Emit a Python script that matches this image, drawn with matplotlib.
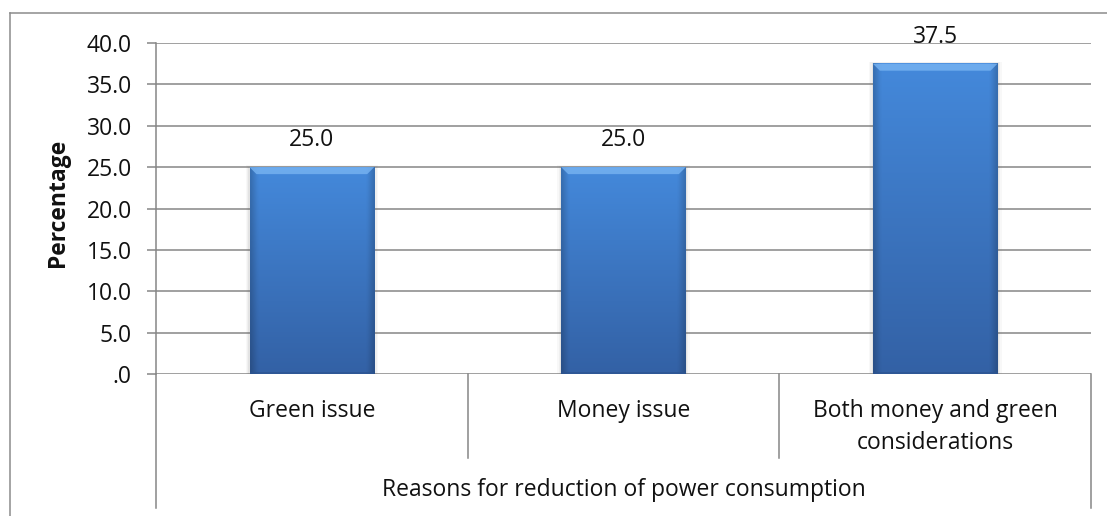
import numpy as np
import matplotlib.pyplot as plt
from matplotlib.patches import Polygon, Rectangle
from matplotlib.lines import Line2D

plt.rcParams['font.family'] = ['Open Sans', 'DejaVu Sans']

categories = ['Green issue', 'Money issue', 'Both money and green\nconsiderations']
values = [25.0, 25.0, 37.5]
yticks = [0, 5, 10, 15, 20, 25, 30, 35, 40]
ytick_labels = ['.0', '5.0', '10.0', '15.0', '20.0', '25.0', '30.0', '35.0', '40.0']
group_label = 'Reasons for reduction of power consumption'
ylabel = 'Percentage'

W, H = 1107, 516
fig = plt.figure(figsize=(W / 100, H / 100), dpi=100)
ax = fig.add_axes([156 / W, 1 - 374 / H, (1091 - 156) / W, (374 - 43) / H])

grid_col = '#868686'
txt_col = '#111111'
fs = 16.5
bar_w = 0.4
x = np.arange(len(categories))

ax.set_xlim(-0.5, len(categories) - 0.5)
ax.set_ylim(0, 40)

# horizontal gridlines
for t in yticks:
    ax.axhline(t, color=grid_col, lw=1.1, zorder=1)

# vertical blue gradient with darker side edges
ny, nx = 200, 60
top = np.array([0x44, 0x89, 0xdb]) / 255
bot = np.array([0x33, 0x61, 0xa5]) / 255
fy = np.linspace(0, 1, ny)[:, None, None]
grad = top * (1 - fy) + bot * fy
ex = np.linspace(0, 1, nx)
edge = 1 - 0.18 * np.clip(1 - np.minimum(ex, 1 - ex) / 0.06, 0, 1)
img = np.broadcast_to(grad * edge[None, :, None], (ny, nx, 3))

px_x = len(categories) / (1091 - 156)
px_y = 40 / (374 - 43)

for xi, v in zip(x, values):
    x0, x1 = xi - bar_w / 2, xi + bar_w / 2
    # soft shadow
    for k, a in [(4, 0.04), (2.5, 0.06), (1.2, 0.08)]:
        ax.add_patch(Rectangle((x0 - k * px_x, 0), bar_w + 2 * k * px_x, v + k * px_y * 0.5,
                               facecolor='#606060', alpha=a, edgecolor='none', zorder=2))
    ax.imshow(img, extent=[x0, x1, 0, v], aspect='auto', zorder=3, interpolation='bilinear')
    # light bevel on the top edge
    bh, bw = 7 * px_y, 7 * px_x
    ax.add_patch(Polygon([(x0, v), (x1, v), (x1 - bw, v - bh), (x0 + bw, v - bh)],
                         closed=True, facecolor='#78b4f2', edgecolor='none', alpha=0.8, zorder=4))
    ax.add_patch(Rectangle((x0, 0), bar_w, 2.5 * px_y, facecolor='#2c5490',
                           edgecolor='none', alpha=0.7, zorder=4))
    ax.annotate(f'{v:.1f}', (xi, v), xytext=(0, 19.5), textcoords='offset points',
                ha='center', va='center', fontsize=fs, color=txt_col, zorder=5)

ax.set_xlim(-0.5, len(categories) - 0.5)
ax.set_ylim(0, 40)

ax.set_yticks(yticks)
ax.set_yticklabels(ytick_labels, fontsize=fs, color=txt_col)
ax.tick_params(axis='y', direction='out', length=6.5, width=1.1, color=grid_col, pad=11)
ax.set_xticks([])
for s in ['top', 'right', 'bottom']:
    ax.spines[s].set_visible(False)
ax.spines['left'].set_color(grid_col)
ax.spines['left'].set_linewidth(1.1)
ax.set_ylabel(ylabel, fontsize=fs, fontweight='bold', color=txt_col)
ax.yaxis.set_label_coords(-0.092, 0.518)

# category boxes under the axis
tr = ax.get_xaxis_transform()
inner = -(458 - 374) / (374 - 43)
outer = -(508 - 374) / (374 - 43)
for b in np.arange(len(categories) + 1) - 0.5:
    ylow = outer if b in (-0.5, len(categories) - 0.5) else inner
    ax.add_line(Line2D([b, b], [0, ylow], transform=tr, color=grid_col, lw=1.1, clip_on=False))
lab_y = -(399 - 374) / (374 - 43)
for xi, c in zip(x, categories):
    ax.text(xi, lab_y, c, transform=tr, ha='center', va='top', fontsize=fs,
            color=txt_col, linespacing=1.45)
ax.text(np.mean(x), -(490 - 374) / (374 - 43), group_label, transform=tr,
        ha='center', va='center', fontsize=fs, color=txt_col)

# outer chart frame
fig.add_artist(Line2D([10 / W, 1], [1 - 13 / H, 1 - 13 / H], color='#8c8c8c', lw=1.1))
fig.add_artist(Line2D([10 / W, 10 / W], [0, 1 - 13 / H], color='#8c8c8c', lw=1.1))

fig.savefig('out.png', dpi=100)
